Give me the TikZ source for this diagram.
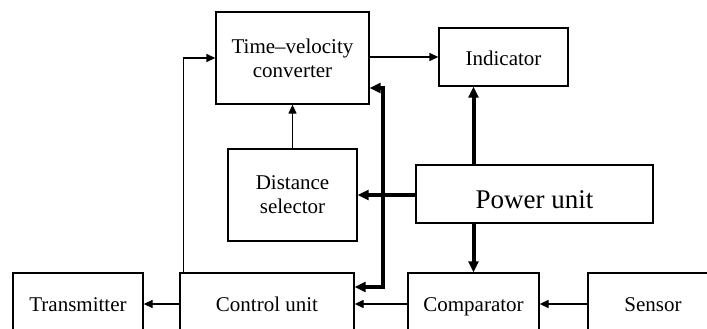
\documentclass[tikz,border=0pt]{standalone}
\usepackage{fontspec}
\setmainfont{Liberation Serif}
\usetikzlibrary{arrows.meta,calc}
\begin{document}
\begin{tikzpicture}[x=1pt,y=-1pt,
  box/.style={draw,line width=1.3pt,inner sep=0pt,align=center,font=\fontsize{21}{24}\selectfont},
  thin/.style={line width=1.3pt,-{Triangle[length=9pt,width=8pt]}},
  thk/.style={line width=4pt,-{Triangle[length=11pt,width=10pt]}}]
\useasboundingbox (0,0) rectangle (707,329);
\node[box,minimum width=153pt,minimum height=92pt] (tvc) at (292.5,58) {Time–velocity\\converter};
\node[box,text height=18pt,text depth=0pt,minimum width=129pt,minimum height=58pt] (ind) at (503.5,57) {Indicator};
\node[box,minimum width=129pt,minimum height=92pt] (dist) at (292.5,195) {Distance\\selector};
\node[box,minimum width=237pt,minimum height=58pt,font=\fontsize{27}{30}\selectfont,text height=28pt,text depth=0pt] (power) at (534.5,194) {Power unit};
\tikzset{bot/.style={box,text height=15pt,text depth=0pt,minimum height=62pt}}
\node[bot,minimum width=130pt] (trans) at (78,304) {Transmitter};
\node[bot,minimum width=174pt] (ctrl) at (267,304) {Control unit};
\node[bot,minimum width=131pt] (comp) at (473.5,304) {Comparator};
\node[bot,minimum width=130pt] (sens) at (653,304) {Sensor};
% thin connectors
\draw[thin] ($(ctrl.north west)+(4,0)$) |- (tvc.west);
\draw[thin] (dist.north) -- (tvc.south);
\draw[thin] (tvc.east |- ind.west) -- (ind.west);
\draw[thin] (comp.west) -- (comp.west -| ctrl.east);
\draw[thin] (sens.west) -- (sens.west -| comp.east);
\draw[thin] (ctrl.west) -- (ctrl.west -| trans.east);
% thick connectors
\coordinate (j1) at (383,88);
\coordinate (j2) at (383,287);
\draw[thk,{Triangle[length=11pt,width=10pt]}-{Triangle[length=11pt,width=10pt]}] (tvc.east |- j1) -- (j1) -- (j2) -- (ctrl.east |- j2);
\draw[thk] (power.west |- dist.east) -- (dist.east);
\draw[thk] (comp.north |- power.north) -- (comp.north |- ind.south);
\draw[thk] (comp.north |- power.south) -- (comp.north);
\end{tikzpicture}
\end{document}
